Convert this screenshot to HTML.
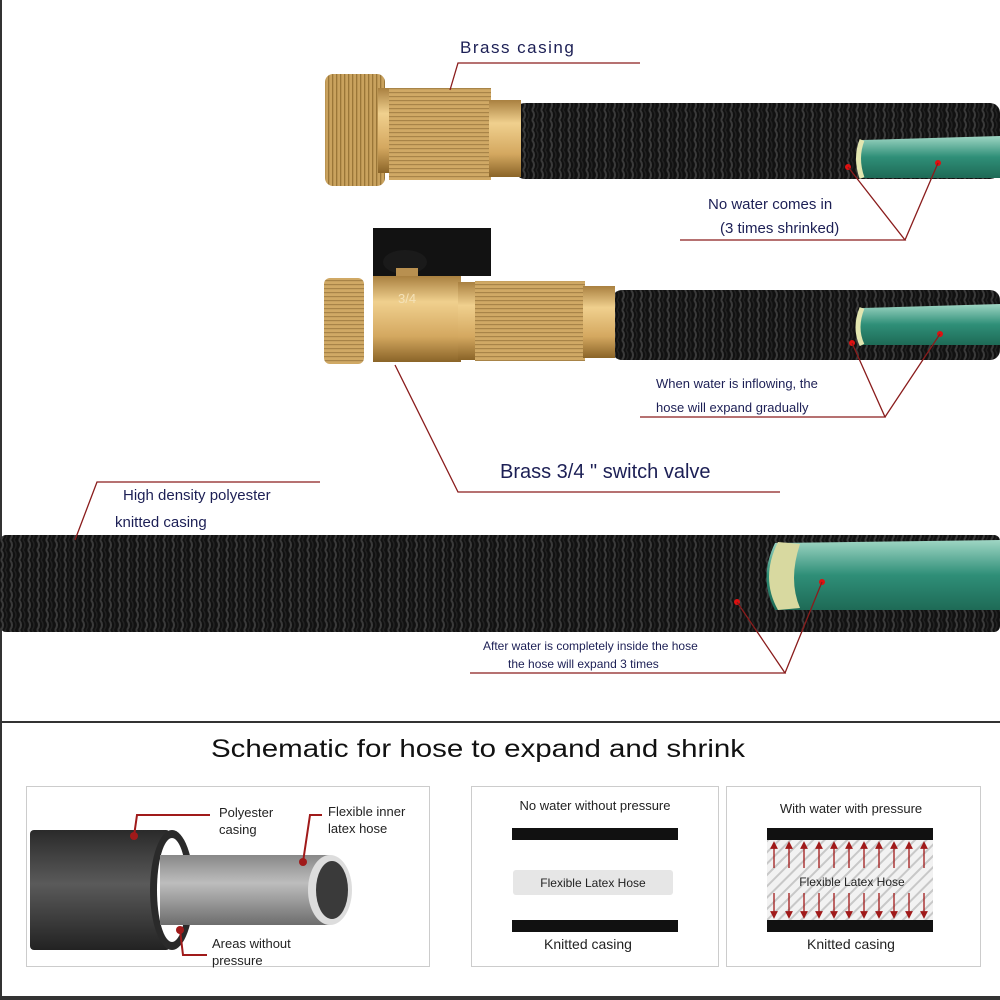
<!DOCTYPE html>
<html><head><meta charset="utf-8"><style>
html,body{margin:0;padding:0;background:#fff;}
svg{display:block;font-family:"Liberation Sans",Arial,sans-serif;}
</style></head><body>
<svg width="1000" height="1000" viewBox="0 0 1000 1000" xmlns="http://www.w3.org/2000/svg">
<defs>
<pattern id="knit" width="9" height="10" patternUnits="userSpaceOnUse">
<rect width="9" height="10" fill="#111"/>
<path d="M1 0 Q5 5 1 10" stroke="#3a3a3a" stroke-width="2" fill="none"/>
<path d="M5 0 Q9 5 5 10" stroke="#222" stroke-width="1.5" fill="none"/>
</pattern>
<pattern id="knurl" width="4" height="4" patternUnits="userSpaceOnUse">
<rect width="4" height="4" fill="#c9a25e"/>
<rect width="1.3" height="4" fill="#9a7638"/>
</pattern>
<pattern id="knurlh" width="4" height="4" patternUnits="userSpaceOnUse">
<rect width="4" height="4" fill="#d0a965"/>
<rect width="4" height="1.2" fill="#a88448"/>
</pattern>
<linearGradient id="brass" x1="0" y1="0" x2="0" y2="1">
<stop offset="0" stop-color="#a98040"/><stop offset="0.3" stop-color="#f0d08e"/><stop offset="0.7" stop-color="#d4a860"/><stop offset="1" stop-color="#8a6428"/>
</linearGradient>
<linearGradient id="green" x1="0" y1="0" x2="0" y2="1">
<stop offset="0" stop-color="#9fd6c4"/><stop offset="0.5" stop-color="#2f8f78"/><stop offset="1" stop-color="#1e6a56"/>
</linearGradient>
<linearGradient id="dark" x1="0" y1="0" x2="0" y2="1">
<stop offset="0" stop-color="#2a2a2a"/><stop offset="0.45" stop-color="#5a5a5a"/><stop offset="1" stop-color="#222"/>
</linearGradient>
<linearGradient id="grey" x1="0" y1="0" x2="0" y2="1">
<stop offset="0" stop-color="#888"/><stop offset="0.4" stop-color="#bdbdbd"/><stop offset="1" stop-color="#6d6d6d"/>
</linearGradient>
<pattern id="hatch" width="8" height="8" patternUnits="userSpaceOnUse" patternTransform="rotate(45)">
<rect width="8" height="8" fill="#f2f2f2"/><rect width="2" height="8" fill="#c8c8c8"/>
</pattern>
<marker id="ar" markerWidth="6" markerHeight="6" refX="3" refY="3" orient="auto"><path d="M0,0 L6,3 L0,6 z" fill="#a01a1a"/></marker>
</defs>
<rect x="0" y="0" width="2" height="1000" fill="#333"/>

<!-- Hose 1 -->
<rect x="515" y="103" width="485" height="76" rx="10" fill="url(#knit)"/>
<path d="M862 140 Q855 158 862 178 L1000 178 L1000 136 Z" fill="url(#green)"/>
<path d="M862 140 Q855 158 862 178" stroke="#e3e6b0" stroke-width="5" fill="none"/>
<rect x="325" y="74" width="60" height="112" rx="8" fill="url(#knurl)"/>
<rect x="378" y="88" width="14" height="85" fill="url(#brass)"/>
<rect x="389" y="88" width="102" height="92" fill="url(#knurlh)"/>
<rect x="489" y="100" width="32" height="77" fill="url(#brass)"/>
<circle cx="848" cy="167" r="3" fill="#e01010"/><circle cx="938" cy="163" r="3" fill="#e01010"/>

<!-- Hose 2 -->
<rect x="612" y="290" width="388" height="70" rx="10" fill="url(#knit)"/>
<path d="M862 308 Q854 328 862 345 L1000 345 L1000 304 Z" fill="url(#green)"/>
<path d="M862 308 Q854 328 862 345" stroke="#e3e6b0" stroke-width="5" fill="none"/>
<rect x="373" y="228" width="118" height="48" fill="#121212"/>
<ellipse cx="405" cy="262" rx="22" ry="12" fill="#1a1a1a"/>
<rect x="396" y="268" width="22" height="12" fill="#b89050"/>
<rect x="324" y="278" width="40" height="86" rx="6" fill="url(#knurlh)"/>
<rect x="373" y="276" width="88" height="86" fill="url(#brass)"/>
<text x="398" y="303" font-size="13" fill="#f4e2b8">3/4</text>
<rect x="458" y="282" width="20" height="78" fill="url(#brass)"/>
<rect x="475" y="281" width="110" height="80" fill="url(#knurlh)"/>
<rect x="583" y="286" width="32" height="72" fill="url(#brass)"/>
<circle cx="852" cy="343" r="3" fill="#e01010"/><circle cx="940" cy="334" r="3" fill="#e01010"/>

<!-- Big hose -->
<rect x="0" y="535" width="1000" height="97" rx="6" fill="url(#knit)"/>
<path d="M775 543 Q758 578 775 610 L1000 610 L1000 540 Z" fill="url(#green)"/>
<path d="M778 542 Q760 578 778 610 L800 608 Q788 580 800 544 Z" fill="#d8d9a0"/>
<circle cx="737" cy="602" r="3" fill="#e01010"/><circle cx="822" cy="582" r="3" fill="#e01010"/>

<!-- leader lines -->
<g stroke="#8a1c1c" stroke-width="1.3" fill="none">
<polyline points="450,90 458,63 640,63"/>
<polyline points="848,167 905,240 680,240"/>
<line x1="938" y1="163" x2="905" y2="240"/>
<polyline points="852,343 885,417 640,417"/>
<line x1="940" y1="334" x2="885" y2="417"/>
<polyline points="395,365 458,492 780,492"/>
<polyline points="75,540 97,482 320,482"/>
<polyline points="737,602 785,673 470,673"/>
<line x1="822" y1="582" x2="785" y2="673"/>
</g>
<g fill="#1c1f55">
<text x="460" y="53" font-size="17" letter-spacing="1.5">Brass  casing</text>
<text x="708" y="209" font-size="15">No water comes in</text>
<text x="720" y="233" font-size="15">(3 times shrinked)</text>
<text x="656" y="388" font-size="13">When water is inflowing,  the</text>
<text x="656" y="412" font-size="13">hose will expand gradually</text>
<text x="500" y="478" font-size="20">Brass 3/4 "  switch valve</text>
<text x="123" y="500" font-size="15">High density polyester</text>
<text x="115" y="527" font-size="15">knitted casing</text>
<text x="483" y="650" font-size="12">After water is completely inside the hose</text>
<text x="508" y="668" font-size="12">the hose will expand 3 times</text>
</g>

<!-- bottom section -->
<rect x="0" y="721" width="1000" height="2" fill="#333"/>
<rect x="0" y="996" width="1000" height="4" fill="#333"/>
<text x="478" y="757" font-size="25" text-anchor="middle" fill="#111" textLength="534" lengthAdjust="spacingAndGlyphs">Schematic for hose to expand and shrink</text>

<rect x="26.5" y="786.5" width="403" height="180" fill="#fff" stroke="#ccc"/>
<rect x="30" y="830" width="140" height="120" rx="4" fill="url(#dark)"/>
<ellipse cx="172" cy="890" rx="22" ry="60" fill="#2a2a2a"/>
<ellipse cx="172" cy="890" rx="15" ry="52" fill="#fff"/>
<rect x="160" y="855" width="170" height="70" fill="url(#grey)"/>
<ellipse cx="330" cy="890" rx="22" ry="35" fill="#ddd"/>
<ellipse cx="332" cy="890" rx="16" ry="29" fill="#3a3a3a"/>
<g stroke="#a01a1a" stroke-width="2" fill="none">
<polyline points="134,836 137,815 210,815"/>
<polyline points="303,862 310,815 322,815"/>
<polyline points="180,930 183,955 207,955"/>
</g>
<circle cx="134" cy="836" r="4" fill="#a01a1a"/><circle cx="303" cy="862" r="4" fill="#a01a1a"/><circle cx="180" cy="930" r="4" fill="#a01a1a"/>
<g font-size="13" fill="#222">
<text x="219" y="817">Polyester</text><text x="219" y="834">casing</text>
<text x="328" y="816">Flexible inner</text><text x="328" y="833">latex hose</text>
<text x="212" y="948">Areas without</text><text x="212" y="965">pressure</text>
</g>

<rect x="471.5" y="786.5" width="247" height="180" fill="#fff" stroke="#ccc"/>
<text x="595" y="810" font-size="13" text-anchor="middle" fill="#222">No water without pressure</text>
<rect x="512" y="828" width="166" height="12" fill="#111"/>
<rect x="513" y="870" width="160" height="25" rx="3" fill="#e6e6e6"/>
<text x="593" y="887" font-size="12" text-anchor="middle" fill="#222">Flexible Latex Hose</text>
<rect x="512" y="920" width="166" height="12" fill="#111"/>
<text x="588" y="949" font-size="14" text-anchor="middle" fill="#222">Knitted casing</text>

<rect x="726.5" y="786.5" width="254" height="180" fill="#fff" stroke="#ccc"/>
<text x="851" y="813" font-size="13" text-anchor="middle" fill="#222">With water with pressure</text>
<rect x="767" y="828" width="166" height="12" fill="#111"/>
<rect x="767" y="840" width="166" height="80" fill="url(#hatch)"/>
<g stroke="#a01a1a" stroke-width="1.3">
<line x1="774" y1="868" x2="774" y2="845" marker-end="url(#ar)"/><line x1="789" y1="868" x2="789" y2="845" marker-end="url(#ar)"/><line x1="804" y1="868" x2="804" y2="845" marker-end="url(#ar)"/><line x1="819" y1="868" x2="819" y2="845" marker-end="url(#ar)"/><line x1="834" y1="868" x2="834" y2="845" marker-end="url(#ar)"/><line x1="849" y1="868" x2="849" y2="845" marker-end="url(#ar)"/><line x1="864" y1="868" x2="864" y2="845" marker-end="url(#ar)"/><line x1="879" y1="868" x2="879" y2="845" marker-end="url(#ar)"/><line x1="894" y1="868" x2="894" y2="845" marker-end="url(#ar)"/><line x1="909" y1="868" x2="909" y2="845" marker-end="url(#ar)"/><line x1="924" y1="868" x2="924" y2="845" marker-end="url(#ar)"/>
<line x1="774" y1="893" x2="774" y2="915" marker-end="url(#ar)"/><line x1="789" y1="893" x2="789" y2="915" marker-end="url(#ar)"/><line x1="804" y1="893" x2="804" y2="915" marker-end="url(#ar)"/><line x1="819" y1="893" x2="819" y2="915" marker-end="url(#ar)"/><line x1="834" y1="893" x2="834" y2="915" marker-end="url(#ar)"/><line x1="849" y1="893" x2="849" y2="915" marker-end="url(#ar)"/><line x1="864" y1="893" x2="864" y2="915" marker-end="url(#ar)"/><line x1="879" y1="893" x2="879" y2="915" marker-end="url(#ar)"/><line x1="894" y1="893" x2="894" y2="915" marker-end="url(#ar)"/><line x1="909" y1="893" x2="909" y2="915" marker-end="url(#ar)"/><line x1="924" y1="893" x2="924" y2="915" marker-end="url(#ar)"/>
</g>
<text x="852" y="886" font-size="12" text-anchor="middle" fill="#222">Flexible Latex Hose</text>
<rect x="767" y="920" width="166" height="12" fill="#111"/>
<text x="851" y="949" font-size="14" text-anchor="middle" fill="#222">Knitted casing</text>
</svg>
</body></html>
